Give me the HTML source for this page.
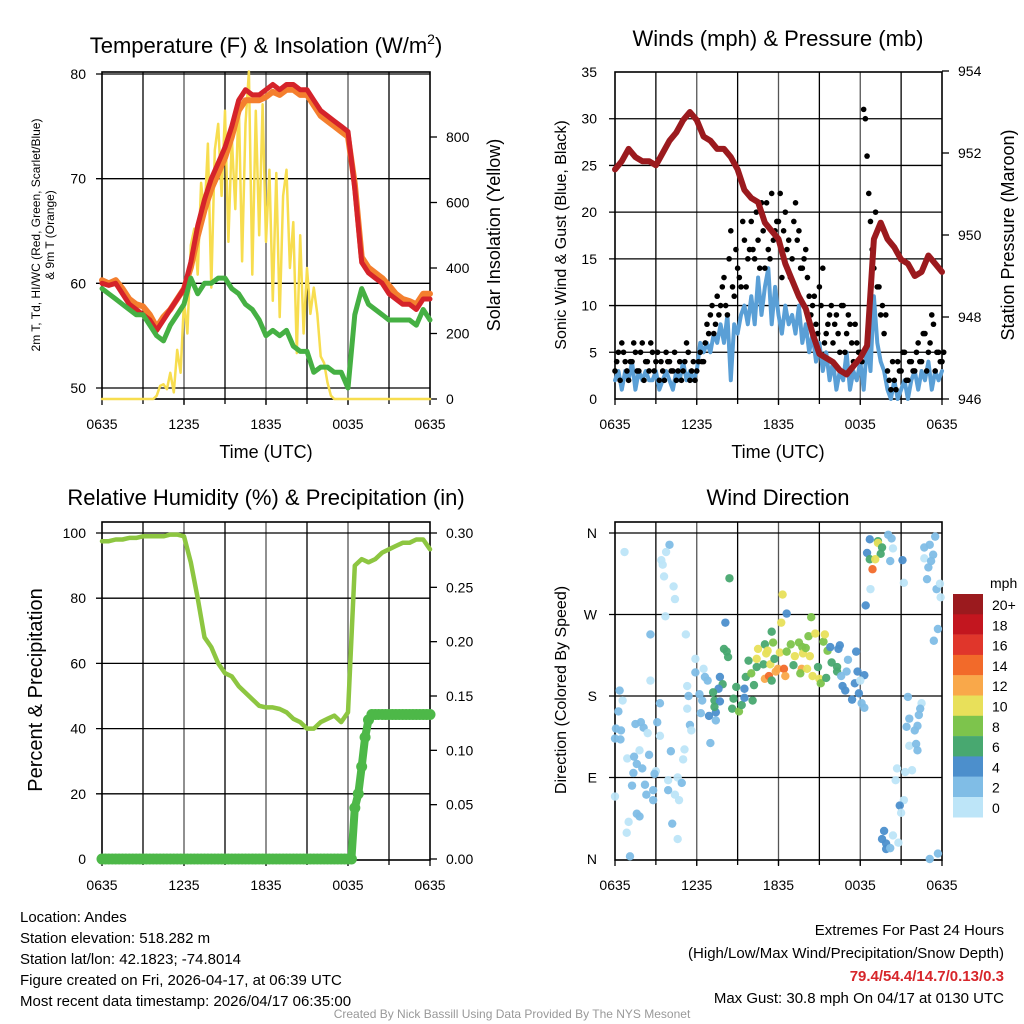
<!DOCTYPE html>
<html><head><meta charset="utf-8"><style>
body{margin:0;background:#fff}
svg{display:block;font-family:"Liberation Sans",Arial,sans-serif}
</style></head><body>
<svg id="root" width="1024" height="1024" viewBox="0 0 1024 1024" xmlns="http://www.w3.org/2000/svg">
<g id="g1"></g>
<g id="g2"></g>
<g id="g3"></g>
<g id="g4"></g>
<g font-size="22" text-anchor="middle">
<text x="266" y="53">Temperature (F) &amp; Insolation (W/m<tspan font-size="14" dy="-9">2</tspan><tspan dy="9">)</tspan></text>
<text x="778" y="46">Winds (mph) &amp; Pressure (mb)</text>
<text x="266" y="505">Relative Humidity (%) &amp; Precipitation (in)</text>
<text x="778" y="505">Wind Direction</text>
</g>
<g font-size="15">
<text x="20" y="922">Location: Andes</text>
<text x="20" y="943">Station elevation: 518.282 m</text>
<text x="20" y="964">Station lat/lon: 42.1823; -74.8014</text>
<text x="20" y="985">Figure created on Fri, 2026-04-17, at 06:39 UTC</text>
<text x="20" y="1006">Most recent data timestamp: 2026/04/17 06:35:00</text>
</g>
<g font-size="15" text-anchor="end">
<text x="1004" y="935">Extremes For Past 24 Hours</text>
<text x="1004" y="958">(High/Low/Max Wind/Precipitation/Snow Depth)</text>
<text x="1004" y="981" fill="#d7262b" font-weight="bold">79.4/54.4/14.7/0.13/0.3</text>
<text x="1004" y="1003">Max Gust: 30.8 mph On 04/17 at 0130 UTC</text>
</g>
<text x="512" y="1018" font-size="12" fill="#999" text-anchor="middle">Created By Nick Bassill Using Data Provided By The NYS Mesonet</text>
</svg>
<script>
// ---- data ----
const xTickLabels = ["0635","1235","1835","0035","0635"];
const tempRed = [60,59.8,60,59,58,57.5,57,56.5,55.5,56.5,57.5,58.5,59.5,62,65.5,68,70,71.5,73,75,77.5,78.5,78,78,78.5,79,78.5,79,79,78.5,78.5,77.5,76.5,76,75.5,75,74.5,69,62,61,60.5,60,59,58.5,58,58,57.5,58.5,58.5];
const tempOrange = [60.3,60,60.3,59.5,58.5,58,57.8,57,55.8,56.8,57.5,58.5,59.5,61.5,64.5,67,69,70.5,72,74,76.5,77.5,77.5,77.5,77.8,78.3,78,78.5,78.5,78,78,77,76,75.5,75,74.5,74,69.5,62.5,61.5,61,60.5,59.8,59,58.5,58.3,58,59,59];
const dewGreen = [59.5,59,58.5,58,57.5,57,57,56,55,54.5,56,57,58,60.5,59,60,60,60.5,60.5,59.5,59,58,57.5,56.5,55,55.5,55,55.5,54,53.5,53.5,51.5,52,52,51.5,51.5,50,57,59.5,58,57.5,57,56.5,56.5,56.5,56.5,56,57.5,56.5];
const solar = [0,0,0,0,0,0,0,0,0,0,0,0,0,0,0,0,10,40,45,30,80,20,150,80,300,200,470,520,380,660,560,780,340,760,840,620,880,480,800,580,920,420,840,1000,380,880,500,900,480,700,300,690,250,620,700,400,540,140,500,200,400,260,340,260,130,110,50,10,0,0,0,0,0,0,0,0,0,0,0,0,0,0,0,0,0,0,0,0,0,0,0,0,0,0,0,0,0];
const tempTicks = [50,60,70,80];
const solarTicks = [0,200,400,600,800];
const pressure = [951.6,951.8,952.1,951.9,951.8,951.8,951.7,952.0,952.3,952.5,952.8,953.0,952.8,952.4,952.3,952.1,952.1,951.9,951.6,951.1,950.9,950.8,950.3,950.1,949.9,949.3,948.9,948.5,948.2,947.6,947.1,947.0,946.9,946.7,946.6,946.8,947.0,947.3,949.9,950.3,949.9,949.7,949.4,949.3,949.0,949.1,949.5,949.3,949.1];
const windSpeed = [2,3,1,3,2,4,1,3,2,3,2,2,3,1,2,3,2,1,3,2,4,2,3,2,3,6,5,6,5,7,6,8,6,9,2,8,7,9,10,8,11,8,13,9,12,14,8,12,9,7,10,8,9,7,10,6,8,5,7,4,6,3,5,2,4,1,3,2,5,1,3,2,4,1,6,3,11,6,4,3,1,0,2,0,1,2,0,2,3,1,3,2,4,1,3,2,3];
const gustA = [3,5,6,4,2,4,5,3,6,4,3,5,4,2,3,5,4,3,2,4,3,6,2,4,3,5,4,8,9,7,11,10,13,9,18,11,14,12,17,15,19,15,17,21,14,16,22,18,19,13,20,17,15,21,18,14,16,11,10,8,12,14,7,9,6,9,5,10,7,8,4,6,5,31,26,19,14,12,9,7,3,1,2,4,3,5,2,4,3,6,4,7,5,9,3,5,4];
const gustB = [4,2,5,3,4,6,3,5,2,4,6,3,5,4,2,4,3,5,3,2,4,5,3,2,4,4,6,7,10,8,9,12,10,15,12,16,13,19,12,16,16,20,14,18,21,15,17,19,22,18,16,13,19,17,14,15,13,9,11,7,10,6,8,10,8,7,10,5,9,6,8,5,4,30,22,16,20,12,10,9,2,4,1,3,5,2,4,3,5,4,7,3,6,8,5,4,5];
const windTicks = [0,5,10,15,20,25,30,35];
const pressTicks = [946,948,950,952,954];
const humidity = [97.5,97.5,98,98,98.5,98.5,99,99,99,99,99.5,99.5,99,91,80,68,65,60,57,56,53,51,49,47,46.5,46.5,46,45,43,42,40,40,42,43,44,42,45,90,92,91,92,94,95,96,97,97,98,98,95];
const precip = [0,0,0,0,0,0,0,0,0,0,0,0,0,0,0,0,0,0,0,0,0,0,0,0,0,0,0,0,0,0,0,0,0,0,0,0,0,0,0,0,0,0,0,0,0,0,0,0,0,0,0,0,0,0,0,0,0,0,0,0,0,0,0,0,0,0,0,0,0,0,0,0,0,0,0.047,0.06,0.085,0.112,0.128,0.133,0.133,0.133,0.133,0.133,0.133,0.133,0.133,0.133,0.133,0.133,0.133,0.133,0.133,0.133,0.133,0.133,0.133];
const rhTicks = [0,20,40,60,80,100];
const precipTicks = ["0.00","0.05","0.10","0.15","0.20","0.25","0.30"];
const dirHour = [0.7,4.0,3.75,3.4,3.5,3.6,4.3,4.4,3.7,2.6,5.2,5.9,2.6,0.34,0.56,0.25,0.07,0.44,0,0.4,1.5,1.9,2.1,2.4,3.1,3.3,3.3,1.8,0.9,1.4,2.5,1.6,2.0,1.35,3.0,2.9,4.1,5.1,5.0,3.9,4.6,4.9,1.25,2.2,2.3,2.8,2.8,0,3.9,4.4,4.7,1.6,1.8,1.0,0.86,4.2,4.6,1.1,5.5,5.6,5.3,5.4,5.3,5.9,6.5,6.6,6.8,6.2,6.4,6.3,6.9,7.4,7.4,7.0,7.7,7.9,7.6,7.2,7.3,7.7,7.3,8.0,8.2,8.3,8.4,8.1,8.9,8.7,8.6,9.1,9.3,9.5,10.1,9.5,9.6,9.8,10.0,10.2,10.4,10.5,10.4,10.9,11.0,11.2,11.1,11.4,11.5,11.6,11.7,11.0,11.3,11.5,11.8,11.96,12.1,12.2,12.3,12.6,12.4,12.5,12.6,12.9,13.1,13.2,13.5,13.75,13.8,13.7,13.6,14.1,14.0,14.3,14.2,14.4,14.7,14.5,14.9,15.0,15.1,15.3,15.4,15.5,15.6,15.8,15.9,16.3,16.3,16.4,16.5,16.6,16.7,16.9,17.1,17.0,17.4,17.6,17.7,17.8,17.9,18.1,18.3,18.3,18.0,18.4,18.7,18.5,18.7,19.3,19.3,19.6,19.5,19.1,18.9,18.75,20.05,20.3,20.4,20.2,21.1,21.2,21.5,22.5,22.4,22.3,21.6,22.2,22.0,21.4,21.6,22.1,22.2,21.8,21.3,20.7,20.6,21.2,20.9,21.0,19.75,19.6,19.9,19.9,20.2,20.4,20.8,23.1,23.7,23.5,23.1,22.7,22.7,23.35,23.2,23.0,22.9,23.6,23.85,23.9,23.7,23.4];
const dirDeg = [339,347,339,330,325,312,301,287,268,248,248,221,197,186,175,163,144,142,133,132,149,151,145,139,151,172,136,120,111,113,115,105,100,95,97,94,119,121,110,87,90,84,81,82,71,65,76,69,76,71,65,50,47,41,29,39,22,3,148,142,191,180,166,206,210,201,197,182,175,161,158,153,162,128,201,193,188,184,175,174,168,232,229,223,310,261,190,177,166,163,170,178,175,188,201,219,205,192,212,232,221,215,237,230,227,215,251,239,221,199,202,197,207,210,228,261,292,271,210,202,229,237,214,224,239,234,227,210,205,210,233,224,246,267,249,202,212,199,194,240,248,200,230,234,217,212,207,232,236,202,191,186,220,207,176,194,229,207,183,172,167,203,197,280,353,338,331,351,349,344,337,331,320,298,358,354,343,329,330,305,179,172,166,159,155,147,142,146,125,127,120,98,96,100,87,65,59,51,31,22,17,11,12,26,18,0,6,356,347,344,332,336,329,322,309,298,304,289,254,241];
const dirSpeed = [1,3,1,1,1,1,1,1,1,3,1,1,1,3,1,3,3,3,3,3,3,3,3,1,3,3,1,1,1,3,3,3,3,3,1,3,3,1,1,1,1,3,3,3,3,3,3,1,3,1,1,3,3,1,1,3,1,3,3,1,1,3,1,3,1,3,3,3,3,3,5,3,5,3,5,7,5,7,7,5,7,7,7,7,7,5,7,7,7,8.5,7,5,7,5,7,7,8.5,7,7,10.5,10.5,7,7,10.5,10.5,10.5,7,8.5,7,12.5,14.5,7,12.5,12.5,10.5,10.5,10.5,5,14.5,12.5,8.5,8.5,7,10.5,8.5,8.5,10.5,12.5,8.5,10.5,8.5,10.5,8.5,8.5,10.5,10.5,7,10.5,8.5,8.5,10.5,7,8.5,5,7,7,7,5,5,3,5,5,3,3,5,5,5,5,5,3,3,5,1,5,5,5,7,7,10.5,7,7,10.5,14.5,1,3,3,1,3,5,1,3,1,3,3,3,3,3,3,1,3,3,1,1,1,1,1,5,1,5,5,5,5,3,1,1,3,3,3,3,3,1,3,3,3,3,3,1,1,3,3];
const speedLabels = ["20+","18","16","14","12","10","8","6","4","2","0"];
const speedColors = ["#9b1a1e","#c3161f","#e0362b","#f26a2a","#f9a84a","#e8e05a","#7dc44c","#48a870","#4c8fcc","#80bde6","#bde5f8"];

// ---- helpers ----
const NS = "http://www.w3.org/2000/svg";
function mk(parent, tag, attrs, text) {
  const e = document.createElementNS(NS, tag);
  for (const k in attrs) e.setAttribute(k, attrs[k]);
  if (text !== undefined) e.textContent = text;
  parent.appendChild(e);
  return e;
}
function lin(d0, d1, r0, r1) { return v => r0 + (v - d0) / (d1 - d0) * (r1 - r0); }

function frame(g, L, R, T, B, nameP) {
  const X = lin(0, 24, L, R);
  for (let h = 3; h < 24; h += 3) {
    const v = mk(g, "line", {x1: X(h), x2: X(h), y1: T, y2: B + 5, stroke: h % 6 ? "#000" : "#555", "stroke-width": 1.3});
    
    
  }
  const r = mk(g, "rect", {x: L, y: T, width: R - L, height: B - T, fill: "none", stroke: "#000", "stroke-width": 1.6});
  
  
  xTickLabels.forEach((s, i) => {
    const t = mk(g, "text", {x: X(i * 6), y: B + 30, "font-size": 14, "text-anchor": "middle"}, s);
    
    
    const tk = mk(g, "line", {x1: X(i * 6), x2: X(i * 6), y1: B, y2: B + 6, stroke: "#000", "stroke-width": 1.3});
    
    
  });
  return X;
}
function hgrid(g, L, R, y) {
  const l = mk(g, "line", {x1: L - 6, x2: R, y1: y, y2: y, stroke: "#000", "stroke-width": 1.3});
  
  
}
function leftLabel(g, x, y, s, fs) {
  const t = mk(g, "text", {x: x, y: y + 5, "font-size": fs || 14, "text-anchor": "end"}, s);
  
  
}
function rightTick(g, R, y, s) {
  const l = mk(g, "line", {x1: R, x2: R + 7, y1: y, y2: y, stroke: "#000", "stroke-width": 1.3});
  
  
  const t = mk(g, "text", {x: R + 16, y: y + 5, "font-size": 14}, s);
  
  
}
function rotText(g, x, y, s, fs, name) {
  const t = mk(g, "text", {x: 0, y: 0, "font-size": fs, "text-anchor": "middle", transform: `translate(${x},${y}) rotate(-90)`}, s);
  
  
  return t;
}
function poly(g, xs, ys, stroke, w, name) {
  const pts = xs.map((x, i) => x.toFixed(1) + "," + ys[i].toFixed(1)).join(" ");
  const p = mk(g, "polyline", {points: pts, fill: "none", stroke: stroke, "stroke-width": w, "stroke-linejoin": "round", "stroke-linecap": "round"});
  
  
}

// ---- Panel 1 ----
(function () {
  const g = document.getElementById("g1");
  const L = 102, R = 430, T = 72, B = 399;
  const X = frame(g, L, R, T, B, "temperature");
  const Y = lin(50, 80, 388, 74);
  const YS = lin(0, 800, 399, 137);
  tempTicks.forEach(v => { hgrid(g, L, R, Y(v)); leftLabel(g, 86, Y(v), String(v)); });
  solarTicks.forEach(v => rightTick(g, R, YS(v), String(v)));
  const half = tempRed.map((_, i) => X(i * 0.5));
  const q = solar.map((_, i) => X(i * 0.25));
  poly(g, q, solar.map(YS), "#f7dd4f", 2.5, "solar-insolation-line");
  poly(g, half, tempOrange.map(Y), "#f47f2e", 6, "temp-9m-line");
  poly(g, half, tempRed.map(Y), "#d5232a", 5, "temp-2m-line");
  poly(g, half, dewGreen.map(Y), "#45b043", 5, "dewpoint-line");
  const t = mk(g, "text", {x: 266, y: 458, "font-size": 18, "text-anchor": "middle"}, "Time (UTC)");
  
  
  rotText(g, 40, 235, "2m T, T\u2090, HI/WC (Red, Green, Scarlet/Blue)", 12, "left-axis-title-line1").textContent = "2m T, Td, HI/WC (Red, Green, Scarlet/Blue)";
  rotText(g, 54, 235, "& 9m T (Orange)", 12, "left-axis-title-line2");
  rotText(g, 500, 235, "Solar Insolation (Yellow)", 18, "right-axis-title");
})();

// ---- Panel 2 ----
(function () {
  const g = document.getElementById("g2");
  const L = 615, R = 942, T = 72, B = 399;
  const X = frame(g, L, R, T, B, "winds");
  const Y = lin(0, 35, 399, 72);
  const YP = lin(946, 954, 399, 71);
  windTicks.forEach(v => { if (v > 0 && v < 35) hgrid(g, L, R, Y(v)); leftLabel(g, 597, Y(v), String(v)); });
  pressTicks.forEach(v => rightTick(g, R, YP(v), String(v)));
  const q = windSpeed.map((_, i) => X(i * 0.25));
  poly(g, q, windSpeed.map(Y), "#5a9fd6", 4, "sonic-wind-line");
  const dots = mk(g, "g", {fill: "#000"});
  
  
  gustA.forEach((v, i) => {
    const c = mk(dots, "circle", {cx: X(i * 0.25), cy: Y(v), r: 2.8});
    
    
  });
  gustB.forEach((v, i) => {
    const c = mk(dots, "circle", {cx: X(i * 0.25 + 0.125), cy: Y(v), r: 2.8});
    
    
  });
  const half = pressure.map((_, i) => X(i * 0.5));
  poly(g, half, pressure.map(YP), "#9b1a1e", 6, "pressure-line");
  const t = mk(g, "text", {x: 778, y: 458, "font-size": 18, "text-anchor": "middle"}, "Time (UTC)");
  
  
  rotText(g, 566, 235, "Sonic Wind & Gust (Blue, Black)", 16, "left-axis-title");
  rotText(g, 1014, 235, "Station Pressure (Maroon)", 18, "right-axis-title");
})();

// ---- Panel 3 ----
(function () {
  const g = document.getElementById("g3");
  const L = 102, R = 430, T = 522, B = 860;
  const X = frame(g, L, R, T, B, "humidity");
  const Y = lin(0, 100, 859, 533);
  const YP = lin(0, 0.3, 859, 533);
  rhTicks.forEach(v => { if (v > 0) hgrid(g, L, R, Y(v)); leftLabel(g, 86, Y(v), String(v)); });
  precipTicks.forEach(s => rightTick(g, R, YP(parseFloat(s)), s));
  const half = humidity.map((_, i) => X(i * 0.5));
  poly(g, half, humidity.map(Y), "#8dc641", 4.5, "humidity-line");
  const q = precip.map((_, i) => X(i * 0.25));
  poly(g, q, precip.map(YP), "#4db848", 8, "precip-line");
  const pg = mk(g, "g", {fill: "#4db848"});
  
  
  precip.forEach((v, i) => {
    const c = mk(pg, "circle", {cx: X(i * 0.25), cy: YP(v), r: 5.5});
    
    
  });
  rotText(g, 42, 690, "Percent & Precipitation", 20, "left-axis-title");
})();

// ---- Panel 4 ----
(function () {
  const g = document.getElementById("g4");
  const L = 615, R = 942, T = 522, B = 860;
  const X = frame(g, L, R, T, B, "direction");
  const Y = lin(0, 360, 859, 533);
  ["N", "E", "S", "W", "N"].forEach((s, i) => { if (i > 0) hgrid(g, L, R, Y(i * 90)); leftLabel(g, 597, Y(i * 90), s); });
  const col = s => s >= 20 ? speedColors[0] : speedColors[10 - Math.floor(s / 2)];
  const dg = mk(g, "g", {"fill-opacity": 0.95});
  
  
  dirHour.forEach((h, i) => {
    const c = mk(dg, "circle", {cx: X(h), cy: Y(dirDeg[i]), r: 4.2, fill: col(dirSpeed[i])});
    
    
  });
  rotText(g, 566, 690, "Direction (Colored By Speed)", 16, "left-axis-title");
  const cb = mk(g, "g", {});
  
  
  const mt = mk(cb, "text", {x: 990, y: 588, "font-size": 14}, "mph");
  
  
  speedLabels.forEach((s, i) => {
    const r = mk(cb, "rect", {x: 953, y: 594 + i * 20.3, width: 30, height: 20.5, fill: speedColors[i]});
    
    
    const t = mk(cb, "text", {x: 992, y: 594 + i * 20.3 + 16, "font-size": 14}, s);
    
    
  });
})();
</script>
</body></html>
